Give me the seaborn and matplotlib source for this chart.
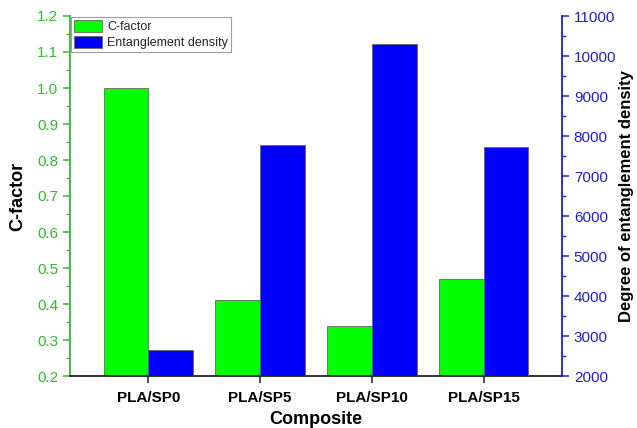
import matplotlib
matplotlib.use("Agg")
import matplotlib.pyplot as plt
import seaborn as sns
import pandas as pd
from matplotlib.patches import Patch
from matplotlib.ticker import MultipleLocator

categories = ["PLA/SP0", "PLA/SP5", "PLA/SP10", "PLA/SP15"]
c_factor = [1.00, 0.41, 0.34, 0.47]
entanglement = [2650, 7780, 10300, 7730]
series = ["C-factor", "Entanglement density"]

sns.set_theme(style="white")
plt.rcParams["font.family"] = ["Liberation Sans", "DejaVu Sans"]

green_bar = "#00ff00"
blue_bar = "#0000ff"
green_txt = "#33bb33"
blue_txt = "#2020cc"

df_c = pd.DataFrame({"Composite": categories, "value": c_factor, "Series": series[0]})
df_e = pd.DataFrame({"Composite": categories, "value": entanglement, "Series": series[1]})

fig = plt.figure(figsize=(6.37, 4.28), dpi=100)
ax1 = fig.add_axes([70/637, 1-376/428, 492/637, 360/428])
ax2 = ax1.twinx()

pal = {series[0]: green_bar, series[1]: blue_bar}
sns.barplot(data=df_c, x="Composite", y="value", hue="Series", hue_order=series,
            order=categories, palette=pal, ax=ax1, width=0.8, dodge=True, saturation=1,
            edgecolor="#666666", linewidth=0.6, legend=False, errorbar=None)
sns.barplot(data=df_e, x="Composite", y="value", hue="Series", hue_order=series,
            order=categories, palette=pal, ax=ax2, width=0.8, dodge=True, saturation=1,
            edgecolor="#666666", linewidth=0.6, legend=False, errorbar=None)

ax1.set_xlim(-0.70, 3.70)
ax1.set_ylim(0.2, 1.2)
ax2.set_ylim(2000, 11000)
ax1.yaxis.set_major_locator(MultipleLocator(0.1))
ax1.yaxis.set_minor_locator(MultipleLocator(0.05))
ax2.yaxis.set_major_locator(MultipleLocator(1000))
ax2.yaxis.set_minor_locator(MultipleLocator(500))
ax1.yaxis.set_major_formatter(matplotlib.ticker.FormatStrFormatter("%.1f"))

for ax in (ax1, ax2):
    ax.spines["top"].set_visible(False)
    ax.grid(False)
    ax.set_facecolor("none")
ax1.spines["right"].set_visible(False)
ax2.spines["left"].set_visible(False)
ax2.spines["bottom"].set_visible(False)
ax1.spines["left"].set_color(green_txt)
ax1.spines["left"].set_linewidth(1.3)
ax2.spines["right"].set_color(blue_txt)
ax2.spines["right"].set_linewidth(1.3)
ax1.spines["bottom"].set_color("#222222")
ax1.spines["bottom"].set_linewidth(1.3)

ax1.tick_params(axis="y", which="major", direction="out", length=5, width=1.1,
                colors=green_txt, labelsize=11, left=True)
ax1.tick_params(axis="y", which="minor", direction="out", length=3, width=1.0,
                colors=green_txt, left=True)
ax2.tick_params(axis="y", which="major", direction="out", length=5, width=1.1,
                colors=blue_txt, labelsize=11, right=True)
ax2.tick_params(axis="y", which="minor", direction="out", length=3, width=1.0,
                colors=blue_txt, right=True)
ax1.tick_params(axis="x", direction="out", length=5, width=1.1, colors="#222222",
                labelsize=11, bottom=True, pad=6)
for lab in ax1.get_xticklabels():
    lab.set_fontweight("bold")
    lab.set_color("black")

ax1.set_xlabel("Composite", fontsize=13, fontweight="bold", color="black", labelpad=4)
ax1.set_ylabel("C-factor", fontsize=13, fontweight="bold", color="black", labelpad=8)
ax2.set_ylabel("Degree of entanglement density", fontsize=12, fontweight="bold",
               color="black", labelpad=2)

handles = [Patch(facecolor=green_bar, edgecolor="#666666", linewidth=0.6, label=series[0]),
           Patch(facecolor=blue_bar, edgecolor="#666666", linewidth=0.6, label=series[1])]
leg = ax2.legend(handles=handles, loc="upper left", bbox_to_anchor=(0.0, 1.0),
                 fontsize=9, frameon=True, fancybox=False, edgecolor="#888888",
                 borderpad=0.25, handlelength=2.2, handleheight=1.0,
                 handletextpad=0.4, labelspacing=0.25, borderaxespad=0.1)
leg.get_frame().set_linewidth(0.8)

fig.savefig("out.png", dpi=100)
